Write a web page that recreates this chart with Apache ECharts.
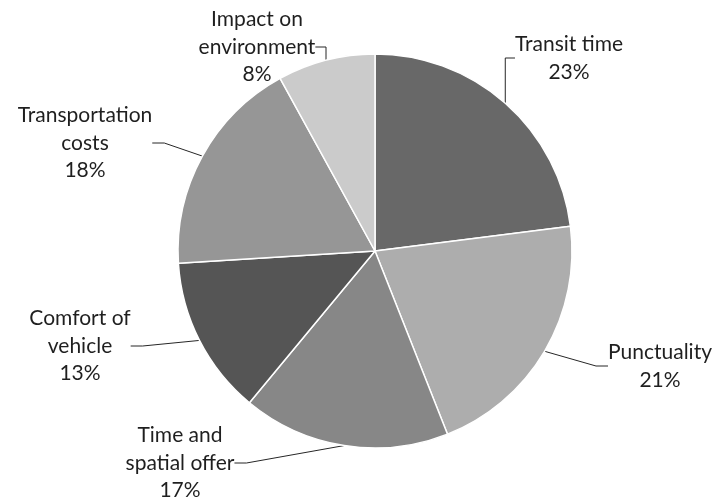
<!DOCTYPE html>
<html><head><meta charset="utf-8">
<script src="https://cdn.jsdelivr.net/npm/echarts@6/dist/echarts.min.js"></script>
<style>html,body{margin:0;padding:0;background:#fff}#c{width:715px;height:501px}</style>
</head><body><div id="c"></div>
<script>
const categories = ["Transit time", "Punctuality", "Time and\nspatial offer", "Comfort of\nvehicle", "Transportation\ncosts", "Impact on\nenvironment"];
const values = [23, 21, 17, 13, 18, 8];
const colors = ["#686868", "#adadad", "#878787", "#555555", "#969696", "#cbcbcb"];
const labelPos = [[569, 58], [660, 366], [180, 463], [80, 346], [85, 143], [257, 47]];

const chart = echarts.init(document.getElementById('c'));
chart.setOption({
  animation: false,
  series: [{
    type: 'pie',
    center: [375, 251],
    radius: [0, 197],
    startAngle: 90,
    clockwise: true,
    data: categories.map((n, i) => ({ name: n, value: values[i], itemStyle: { color: colors[i] } })),
    itemStyle: { borderColor: '#fff', borderWidth: 1.5 },
    label: {
      show: true,
      position: 'outside',
      formatter: '{b}\n{c}%',
      fontFamily: 'Lato',
      fontSize: 21,
      lineHeight: 27.5,
      color: '#1f1f1f',
      align: 'center'
    },
    labelLine: { show: true, length: 15, length2: 12, lineStyle: { color: '#262626', width: 1 } },
    labelLayout: function (p) {
      const pos = labelPos[p.dataIndex];
      return { x: pos[0], y: pos[1], align: 'center', verticalAlign: 'middle' };
    },
    emphasis: { disabled: true }
  }]
});
</script></body></html>
